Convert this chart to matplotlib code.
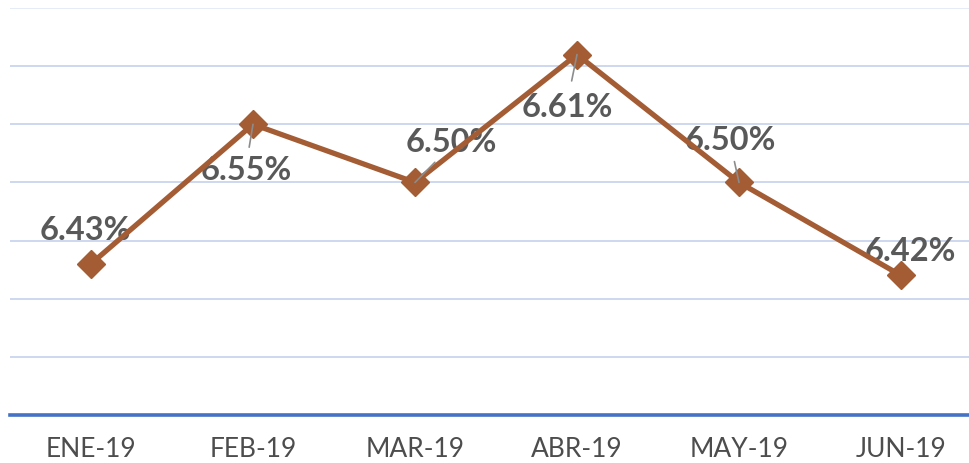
import matplotlib
matplotlib.use("Agg")
import matplotlib.pyplot as plt

months = ["ENE-19", "FEB-19", "MAR-19", "ABR-19", "MAY-19", "JUN-19"]
rates = [6.43, 6.55, 6.50, 6.61, 6.50, 6.42]
# label offsets from the marker, in points (x, y)
label_offsets = [(-4, 24), (-5, -33), (26, 29), (-7, -38), (-6, 30), (7, 17)]
leaders = [False, True, True, True, True, False]

yticks = [6.30, 6.35, 6.40, 6.45, 6.50, 6.55, 6.60, 6.65]

fig = plt.figure(figsize=(9.7, 4.63), dpi=100)
ax = fig.add_axes([10 / 970, 1 - 415 / 463, 972 / 970, 407 / 463])

x = list(range(len(months)))
ax.set_xlim(-0.5, len(months) - 0.5)
ax.set_ylim(6.30, 6.65)

for yv in yticks[1:]:
    c = "#E4EAF6" if yv == 6.65 else "#C9D6EE"
    ax.axhline(yv, color=c, lw=1.3, zorder=0)

ax.plot(x, rates, color="#A35C34", lw=3.8, marker="D", markersize=14,
        zorder=3, solid_joinstyle="miter")

for i, v in enumerate(rates):
    dx, dy = label_offsets[i]
    ax.annotate(f"{v:.2f}%", xy=(i, v), xytext=(dx, dy), textcoords="offset points",
                ha="center", va="center", fontsize=23.5, fontweight="bold",
                family="Lato", color="#595959", zorder=2.5)
    if leaders[i]:
        sx = dx * 0.55
        sy = dy * 0.5
        ax.annotate("", xy=(i, v), xytext=(sx, sy), textcoords="offset points",
                    arrowprops=dict(arrowstyle="-", color="#8C8C8C", lw=1.2,
                                    shrinkA=0, shrinkB=0), zorder=4)

for s in ["top", "left", "right"]:
    ax.spines[s].set_visible(False)
ax.spines["bottom"].set_color("#4472C4")
ax.spines["bottom"].set_linewidth(2.6)

ax.set_yticks([])
ax.set_xticks(x)
ax.set_xticklabels(months, fontsize=19, family="Lato", color="#4D4D4D")
ax.tick_params(axis="x", length=0, pad=16)

fig.savefig("out.png", dpi=100)
